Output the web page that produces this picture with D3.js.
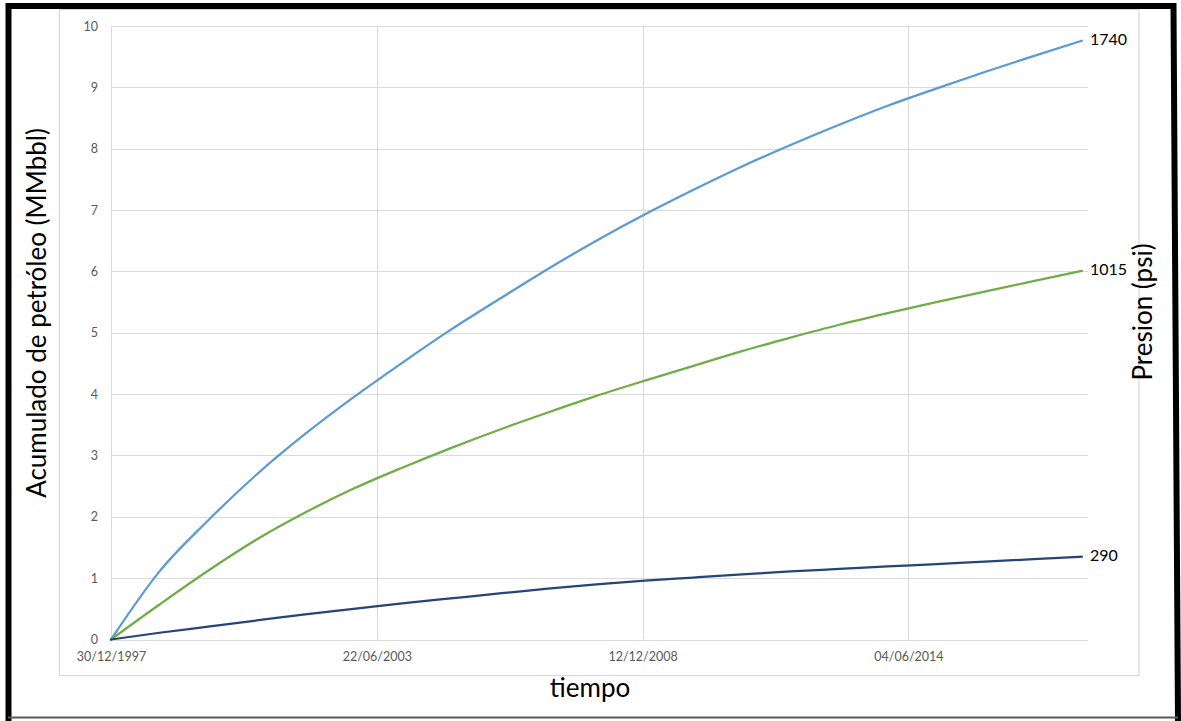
<!DOCTYPE html>
<html>
<head>
<meta charset="utf-8">
<script src="https://cdn.jsdelivr.net/npm/d3@7"></script>
<style>
  html, body { margin: 0; padding: 0; background: #ffffff; }
  svg { display: block; }
  text { font-family: Lato, "Open Sans", sans-serif; }
</style>
</head>
<body>
<svg id="chart" width="1181" height="721"></svg>
<script>
// Fechas de cada punto (fin de año)
const fechas = [
  "30/12/1997", "30/12/1998", "30/12/1999", "30/12/2000", "30/12/2001",
  "30/12/2002", "30/12/2003", "30/12/2004", "30/12/2005", "30/12/2006",
  "30/12/2007", "30/12/2008", "30/12/2009", "30/12/2010", "30/12/2011",
  "30/12/2012", "30/12/2013", "30/12/2014", "30/12/2015", "30/12/2016",
  "30/12/2017"
];

// Acumulado de petróleo (MMbbl) para cada presión
const presiones = ["1740", "1015", "290"];
const acum1740 = [0, 1.11, 1.94, 2.69, 3.35, 3.95, 4.51, 5.05, 5.55, 6.04, 6.50,
                  6.93, 7.33, 7.71, 8.06, 8.39, 8.70, 8.98, 9.25, 9.51, 9.76];
const acum1015 = [0, 0.57, 1.12, 1.63, 2.07, 2.46, 2.80, 3.12, 3.42, 3.70, 3.97,
                  4.22, 4.46, 4.70, 4.92, 5.13, 5.32, 5.50, 5.67, 5.84, 6.01];
const acum290  = [0, 0.11, 0.21, 0.31, 0.41, 0.50, 0.59, 0.67, 0.75, 0.83, 0.90,
                  0.96, 1.01, 1.06, 1.11, 1.15, 1.19, 1.23, 1.27, 1.31, 1.35];

// Ejes
const etiquetasX = ["30/12/1997", "22/06/2003", "12/12/2008", "04/06/2014"];
const finEjeX = "14/02/2018";
const ticksY = [0, 1, 2, 3, 4, 5, 6, 7, 8, 9, 10];
const tituloX = "tiempo";
const tituloY = "Acumulado de petróleo (MMbbl)";
const tituloY2 = "Presion (psi)";

const colores = ["#5B9BD5", "#70AD47", "#264478"];

const parse = d3.utcParse("%d/%m/%Y");
const fmt = d3.utcFormat("%d/%m/%Y");

const svg = d3.select("#chart");
const W = 1181, H = 721;
const plot = { left: 111, right: 1088, top: 26, bottom: 639.5 };

const x = d3.scaleUtc()
  .domain([parse(fechas[0]), parse(finEjeX)])
  .range([plot.left, plot.right]);
const y = d3.scaleLinear()
  .domain([0, 10])
  .range([plot.bottom, plot.top]);

// Fondo
svg.append("rect").attr("width", W).attr("height", H).attr("fill", "#ffffff");

// Borde del área del gráfico
svg.append("rect")
  .attr("x", 59.5).attr("y", 9.5)
  .attr("width", 1079.5).attr("height", 666)
  .attr("fill", "none").attr("stroke", "#d9d9d9").attr("stroke-width", 1.2);

// Cuadrícula horizontal
svg.append("g")
  .selectAll("line")
  .data(ticksY)
  .join("line")
  .attr("x1", plot.left).attr("x2", plot.right)
  .attr("y1", d => Math.round(y(d)) + 0.5).attr("y2", d => Math.round(y(d)) + 0.5)
  .attr("stroke", "#d9d9d9").attr("stroke-width", 1);

// Cuadrícula vertical
svg.append("g")
  .selectAll("line")
  .data(etiquetasX.map(parse))
  .join("line")
  .attr("x1", d => Math.round(x(d)) + 0.5).attr("x2", d => Math.round(x(d)) + 0.5)
  .attr("y1", plot.top).attr("y2", plot.bottom)
  .attr("stroke", "#d9d9d9").attr("stroke-width", 1);

// Eje Y (etiquetas)
const ejeY = svg.append("g")
  .attr("transform", `translate(${plot.left},0)`)
  .call(d3.axisLeft(y).tickValues(ticksY).tickSize(0).tickPadding(13).tickFormat(d3.format("d")));
ejeY.select(".domain").remove();
ejeY.selectAll("text")
  .attr("fill", "#595959")
  .style("font-size", "12.5px")
  .style("font-family", "Lato, sans-serif");

// Eje X (etiquetas)
const ejeX = svg.append("g")
  .attr("transform", `translate(0,${plot.bottom})`)
  .call(d3.axisBottom(x).tickValues(etiquetasX.map(parse)).tickSize(0).tickPadding(13).tickFormat(fmt));
ejeX.select(".domain").remove();
ejeX.selectAll("text")
  .attr("fill", "#595959")
  .style("font-size", "12.5px")
  .style("font-family", "Lato, sans-serif");

// Series
const series = [acum1740, acum1015, acum290].map((vals, i) => ({
  nombre: presiones[i],
  color: colores[i],
  puntos: vals.map((v, j) => ({ fecha: parse(fechas[j]), valor: v }))
}));

const linea = d3.line()
  .x(d => x(d.fecha))
  .y(d => y(d.valor))
  .curve(d3.curveMonotoneX);

svg.append("g")
  .selectAll("path")
  .data(series)
  .join("path")
  .attr("d", d => linea(d.puntos))
  .attr("fill", "none")
  .attr("stroke", d => d.color)
  .attr("stroke-width", 2.25)
  .attr("stroke-linejoin", "round")
  .attr("stroke-linecap", "round");

// Etiquetas de presión al final de cada curva
svg.append("g")
  .selectAll("text")
  .data(series)
  .join("text")
  .attr("x", d => x(d.puntos[d.puntos.length - 1].fecha) + 8)
  .attr("y", d => y(d.puntos[d.puntos.length - 1].valor) - 1.5)
  .attr("dy", "0.35em")
  .attr("fill", "#000000")
  .style("font-size", "16px")
  .text(d => d.nombre);

// Títulos de ejes
svg.append("text")
  .attr("x", 590).attr("y", 697)
  .attr("text-anchor", "middle")
  .attr("fill", "#000000")
  .style("font-size", "26px")
  .text(tituloX);

svg.append("text")
  .attr("transform", "translate(46,313) rotate(-90)")
  .attr("text-anchor", "middle")
  .attr("fill", "#000000")
  .style("font-size", "26px")
  .text(tituloY);

svg.append("text")
  .attr("transform", "translate(1152,312) rotate(-90)")
  .attr("text-anchor", "middle")
  .attr("fill", "#000000")
  .style("font-size", "26px")
  .text(tituloY2);

// Marco exterior
svg.append("path")
  .attr("d", "M8.5,721 L8.5,6 L1173.5,6 L1178,721")
  .attr("fill", "none")
  .attr("stroke", "#000000")
  .attr("stroke-width", 6);
svg.append("line")
  .attr("x1", 8).attr("x2", 1178)
  .attr("y1", 717.5).attr("y2", 717.5)
  .attr("stroke", "#5a5a5a")
  .attr("stroke-width", 2);
</script>
</body>
</html>
